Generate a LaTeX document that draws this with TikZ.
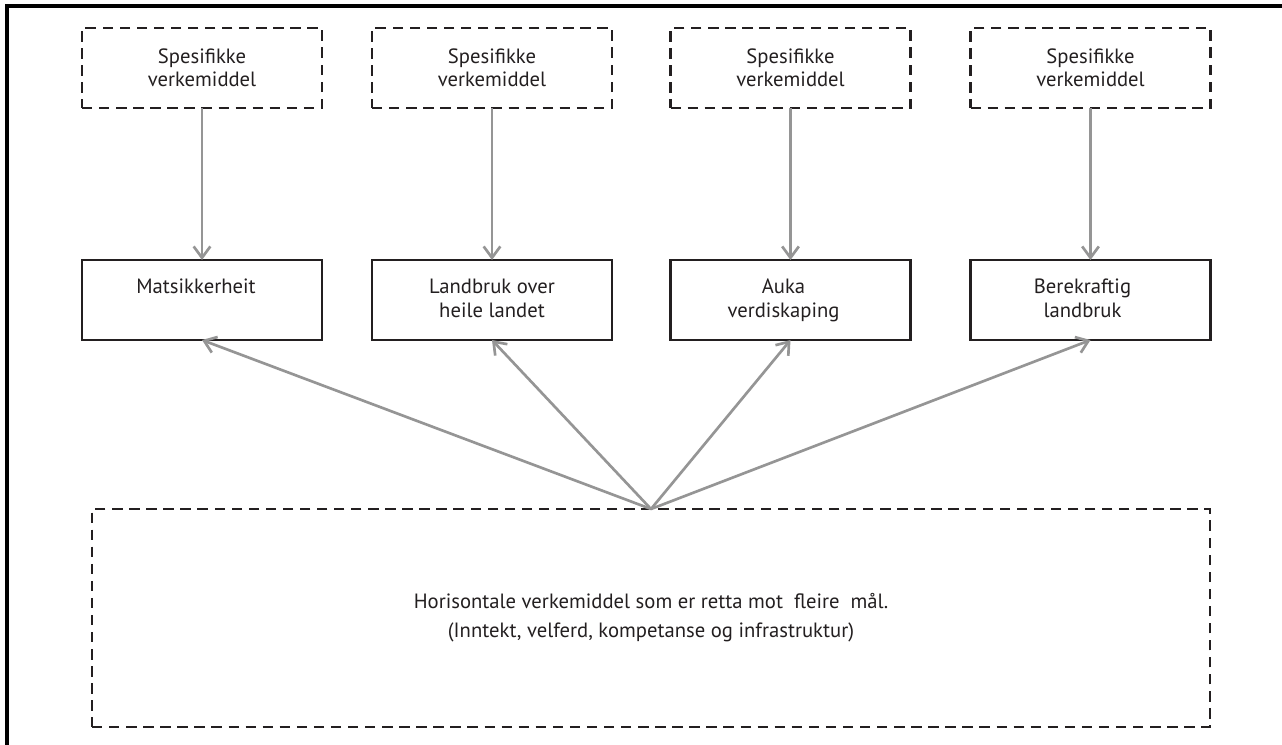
\documentclass[tikz,border=0pt]{standalone}
\usepackage{fontspec}
\setmainfont{PT Sans}
\usetikzlibrary{arrows.meta,calc}
\definecolor{boxline}{HTML}{231F20}
\definecolor{arrowgray}{HTML}{959595}
\tikzset{
  frame/.style={draw=black, line width=2.3pt},
  topbox/.style={draw=boxline, line width=2.2pt, dash pattern=on 7.8pt off 5pt,
    minimum width=180pt, minimum height=60pt, inner sep=0pt, outer sep=0pt,
    align=center, font=\fontsize{15.5pt}{17.5pt}\selectfont, text=boxline},
  midbox/.style={draw=boxline, line width=2.2pt, minimum width=180pt, minimum height=60pt,
    inner sep=0pt, outer sep=0pt},
  midtext/.style={align=center, font=\fontsize{15.5pt}{18pt}\selectfont, text=boxline, inner sep=0pt},
  botbox/.style={draw=boxline, line width=2.2pt, dash pattern=on 7.8pt off 5pt,
    minimum width=838.5pt, minimum height=163.5pt, inner sep=0pt, outer sep=0pt,
    align=center, font=\fontsize{15.5pt}{22pt}\selectfont, text=boxline},
  conn/.style={draw=arrowgray, line width=2pt, -{Straight Barb[length=8.5pt,width=12.5pt,line width=2pt]}},
}
\begin{document}
\begin{tikzpicture}[x=0.75pt,y=-0.75pt]
\useasboundingbox (0,0) rectangle (1282,744);
\clip (0,0) rectangle (1282,744);
\draw[frame] (7,760) -- (7,6) -- (1300,6);

% top dashed boxes
\node[topbox] (t1) at (202,68) {Spesifikke\\verkemiddel};
\node[topbox] (t2) at (492,68) {Spesifikke\\verkemiddel};
\node[topbox] (t3) at (790.5,68) {Spesifikke\\verkemiddel};
\node[topbox] (t4) at (1090.5,68) {Spesifikke\\verkemiddel};

% goal boxes
\node[midbox] (m1) at (202,300) {};
\node[midbox] (m2) at (492,300) {};
\node[midbox] (m3) at (790.5,300) {};
\node[midbox] (m4) at (1090.5,300) {};
\node[midtext, anchor=base] (m1t) at ($(m1.north)+(-6,33)$) {Matsikkerheit};
\node[midtext, anchor=base] (m2t) at ($(m2.north)+(0,57)$) {Landbruk over\\heile landet};
\node[midtext, anchor=base] (m3t) at ($(m3.north)+(-7,57)$) {Auka\\verdiskaping};
\node[midtext, anchor=base] (m4t) at ($(m4.north)+(-8,57)$) {Berekraftig\\landbruk};

% horizontal instruments box
\node[botbox] (b) at (651,618) {Horisontale verkemiddel som er retta mot~ fleire~ mål.\\(Inntekt, velferd, kompetanse og infrastruktur)};

% connectors
\foreach \i in {1,2,3,4} {
  \draw[conn] (t\i.south) -- (m\i.north);
  \draw[conn] (b.north) -- (m\i.south);
}
\end{tikzpicture}
\end{document}
